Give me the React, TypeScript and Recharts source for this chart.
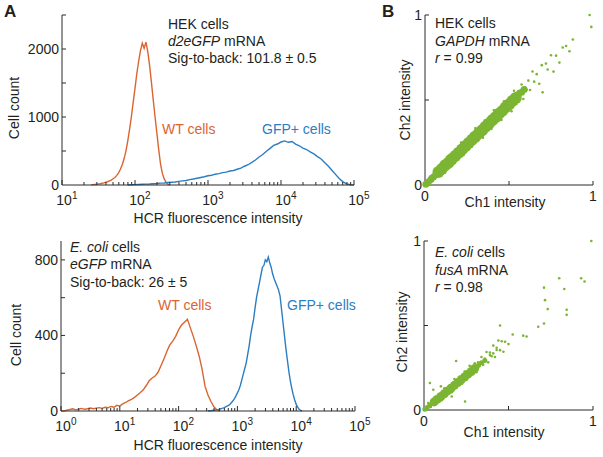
import React from "react";
import { LineChart, Line, XAxis, YAxis, ScatterChart, Scatter } from "recharts";

const ORANGE = "#DC6430";
const BLUE = "#2C7DC2";
const GREEN = "#7BB533";
const AXIS = "#2b2b2b";
const TEXT = "#231f20";
const FONT = "'Liberation Sans', Arial, Helvetica, sans-serif";

// panel A top: HEK cells, d2eGFP mRNA (bins in log10 units)
const hekWtStart = 1.4;
const hekWtBin = 0.025;
const hekWtCounts = [
  3, 5, 8, 10, 16, 19, 26, 31, 41, 48, 62, 73, 92, 110, 142, 178, 232, 298, 385, 495,
  640, 815, 1000, 1215, 1420, 1640, 1820, 1975, 2085, 2010, 2100, 1960, 1760, 1510,
  1250, 1000, 760, 520, 305, 170, 90, 42, 12, 0,
];
const hekGfpStart = 1.9;
const hekGfpBin = 0.05;
const hekGfpCounts = [
  0, 3, 5, 7, 10, 13, 15, 19, 22, 27, 30, 36, 41, 45, 53, 60, 67, 79, 88, 99, 111, 121,
  136, 144, 159, 168, 182, 190, 206, 214, 232, 248, 276, 298, 332, 368, 412, 448, 497,
  538, 582, 603, 632, 648, 628, 640, 602, 577, 543, 522, 488, 457, 418, 382, 328, 276,
  214, 152, 92, 46, 16, 4, 0,
];

// panel A bottom: E. coli cells, eGFP mRNA
const ecoliWtStart = 0;
const ecoliWtBin = 0.05;
const ecoliWtCounts = [
  0, 0, 5, 8, 12, 6, 10, 14, 9, 12, 16, 12, 15, 18, 14, 20, 17, 24, 20, 30, 26, 38, 45,
  55, 62, 72, 85, 98, 112, 135, 160, 175, 185, 205, 240, 275, 315, 350, 370, 395, 430,
  455, 470, 485, 440, 395, 345, 290, 220, 130, 85, 50, 22, 7, 0,
];
const ecoliGfpStart = 2.5;
const ecoliGfpBin = 0.025;
const ecoliGfpCounts = [
  0, 1, 2, 3, 4, 5, 7, 8, 10, 13, 15, 18, 22, 26, 30, 36, 45, 54, 66, 80, 96, 112, 135,
  165, 195, 225, 255, 300, 345, 400, 445, 485, 545, 600, 640, 680, 720, 760, 770, 800,
  790, 815, 785, 760, 725, 700, 680, 660, 640, 610, 540, 470, 400, 330, 270, 210, 160,
  120, 85, 58, 35, 20, 9, 3, 0,
];

const hekTopTicks = [0, 500, 1000, 1500, 2000, 2500];
const hekTopLabels = [0, 1000, 2000];
const ecoliTicks = [0, 200, 400, 600, 800];
const ecoliLabels = [0, 400, 800];
const unitTicks = [0, 0.5, 1];
const unitLabels = [0, 1];

// panel B: Ch1 vs Ch2 intensity, [ch1, ch2]
const hekCore = [
  [0.08, 0.077], [0.1, 0.094], [0.12, 0.116], [0.14, 0.131], [0.16, 0.153], [0.18, 0.17],
  [0.2, 0.19], [0.22, 0.209], [0.24, 0.228], [0.26, 0.247], [0.28, 0.266], [0.3, 0.285],
  [0.32, 0.305], [0.34, 0.322], [0.36, 0.343], [0.38, 0.36], [0.4, 0.381], [0.42, 0.398],
  [0.44, 0.419], [0.46, 0.436], [0.48, 0.457], [0.5, 0.474], [0.52, 0.494], [0.54, 0.512],
];
const hekTip = [
  [0.005, 0.004], [0.02, 0.018], [0.035, 0.033], [0.05, 0.047], [0.065, 0.061],
  [0.555, 0.532], [0.575, 0.545], [0.59, 0.562],
];
const hekSpread = [
  [0.03, 0.049], [0.045, 0.025], [0.07, 0.097], [0.085, 0.056], [0.1, 0.117], [0.115, 0.074],
  [0.13, 0.164], [0.15, 0.123], [0.16, 0.18], [0.175, 0.128], [0.19, 0.211], [0.205, 0.168],
  [0.215, 0.249], [0.23, 0.176], [0.245, 0.258], [0.26, 0.217], [0.275, 0.299], [0.29, 0.254],
  [0.3, 0.335], [0.315, 0.259], [0.33, 0.344], [0.345, 0.278], [0.355, 0.379], [0.37, 0.324],
  [0.385, 0.401], [0.395, 0.33], [0.41, 0.44], [0.425, 0.369], [0.44, 0.446], [0.455, 0.382],
  [0.47, 0.492], [0.485, 0.431], [0.5, 0.51], [0.515, 0.434], [0.53, 0.554], [0.545, 0.478],
  [0.555, 0.552], [0.565, 0.517], [0.575, 0.591], [0.585, 0.506], [0.595, 0.575], [0.605, 0.56],
  [0.615, 0.614], [0.625, 0.559], [0.64, 0.668], [0.65, 0.608], [0.665, 0.652], [0.68, 0.596],
  [0.695, 0.705], [0.7, 0.545], [0.72, 0.714], [0.73, 0.679], [0.75, 0.763], [0.765, 0.667],
  [0.78, 0.761], [0.8, 0.72], [0.82, 0.809], [0.84, 0.818], [0.86, 0.787], [0.88, 0.856],
  [0.98, 1.0], [0.99, 0.93],
];

const ecoliCore = [
  [0.06, 0.048], [0.08, 0.064], [0.1, 0.08], [0.12, 0.096], [0.14, 0.113], [0.16, 0.129],
  [0.18, 0.146], [0.2, 0.162], [0.22, 0.179], [0.24, 0.195], [0.26, 0.212], [0.28, 0.228],
  [0.3, 0.246],
];
const ecoliTip = [
  [0.005, 0.004], [0.02, 0.016], [0.035, 0.028], [0.05, 0.04],
  [0.32, 0.264], [0.34, 0.28], [0.36, 0.293],
];
const ecoliSpread = [
  [0.025, 0.041], [0.04, 0.018], [0.06, 0.074], [0.075, 0.042], [0.09, 0.092], [0.105, 0.058],
  [0.12, 0.128], [0.135, 0.089], [0.15, 0.143], [0.165, 0.105], [0.18, 0.183], [0.195, 0.14],
  [0.21, 0.197], [0.225, 0.155], [0.24, 0.227], [0.255, 0.184], [0.27, 0.261], [0.285, 0.214],
  [0.3, 0.276], [0.31, 0.224], [0.32, 0.282], [0.33, 0.261], [0.34, 0.314], [0.35, 0.267],
  [0.36, 0.305], [0.37, 0.343], [0.38, 0.282], [0.39, 0.34], [0.4, 0.318], [0.41, 0.381],
  [0.42, 0.314], [0.43, 0.368], [0.44, 0.411], [0.45, 0.354], [0.46, 0.407], [0.47, 0.345],
  [0.48, 0.404], [0.5, 0.39], [0.39, 0.325], [0.41, 0.335], [0.43, 0.355], [0.45, 0.5],
  [0.525, 0.447], [0.587, 0.44], [0.607, 0.435], [0.676, 0.493], [0.71, 0.512], [0.732, 0.597],
  [0.716, 0.65], [0.71, 0.724], [0.8, 0.78], [0.83, 0.716], [0.844, 0.593], [0.844, 0.563],
  [0.93, 0.78], [0.95, 0.76], [0.99, 1.0], [0.035, 0.16], [0.055, 0.12], [0.1, 0.14],
  [0.164, 0.08], [0.243, 0.05], [0.19, 0.29],
];

const toBins = (start: number, bin: number, counts: number[]) =>
  counts.map((c, i) => ({ x: Math.pow(10, start + i * bin), count: c }));
const toPts = (pairs: number[][]) => pairs.map(([x, y]) => ({ x, y }));

const logTicks = (lo: number, hi: number) => {
  const t: number[] = [];
  for (let d = lo; d < hi; d++) {
    for (let k = 1; k < 10; k++) t.push(k * Math.pow(10, d));
  }
  t.push(Math.pow(10, hi));
  return t;
};

const isDecade = (v: number) => Math.abs(Math.log10(v) - Math.round(Math.log10(v))) < 1e-6;

const LogXTick = (p: any) => {
  const { x, y, payload } = p;
  const v = payload.value;
  const major = isDecade(v);
  return (
    <g>
      <line x1={x} x2={x} y1={y} y2={y - (major ? 5 : 3)} stroke={AXIS} />
      {major && (
        <g fill={TEXT} fontFamily={FONT}>
          <text x={x + 2} y={y + 20} textAnchor="middle" fontSize={14}>10</text>
          <text x={x + 10} y={y + 14} fontSize={10}>{Math.round(Math.log10(v))}</text>
        </g>
      )}
    </g>
  );
};

const makeYTick = (labels: number[]) => (p: any) => {
  const { x, y, payload } = p;
  const v = payload.value;
  return (
    <g>
      {v !== 0 && <line x1={x} x2={x + 4} y1={y} y2={y} stroke={AXIS} />}
      {labels.includes(v) && (
        <text x={x - 3} y={y + 5} textAnchor="end" fontSize={14} fill={TEXT} fontFamily={FONT}>
          {v}
        </text>
      )}
    </g>
  );
};

const UnitXTick = (p: any) => {
  const { x, y, payload } = p;
  const v = payload.value;
  return (
    <g>
      {v !== 0 && <line x1={x} x2={x} y1={y} y2={y - 4} stroke={AXIS} />}
      {unitLabels.includes(v) && (
        <text x={x} y={y + 16} textAnchor="middle" fontSize={14} fill={TEXT} fontFamily={FONT}>
          {v}
        </text>
      )}
    </g>
  );
};

const dot = (r: number) => (p: any) => <circle cx={p.cx} cy={p.cy} r={r} fill={GREEN} />;

const layer: React.CSSProperties = { position: "absolute", left: 0, top: 0 };
const W = 603;
const H = 457;
const XH = 30; // x axis band height
const YW = 40; // y axis band width

type Box = { top: number; left: number; right: number; bottom: number };
// plot box in page pixels -> chart margin (axis bands are taken off the margin)
const marginFor = (b: Box) => ({
  top: b.top,
  left: b.left - YW,
  right: W - b.right,
  bottom: H - b.bottom - XH,
});

function Histogram(props: {
  box: Box;
  lo: number;
  yMax: number;
  yTicks: number[];
  yLabels: number[];
  wt: { x: number; count: number }[];
  gfp: { x: number; count: number }[];
}) {
  const { box, lo, yMax, yTicks, yLabels, wt, gfp } = props;
  return (
    <div style={layer}>
      <LineChart width={W} height={H} margin={marginFor(box)}>
        <XAxis
          type="number"
          dataKey="x"
          scale="log"
          domain={[Math.pow(10, lo), 100000]}
          ticks={logTicks(lo, 5)}
          interval={0}
          height={XH}
          tickSize={0}
          tickMargin={0}
          tickLine={false}
          axisLine={{ stroke: AXIS }}
          tick={LogXTick}
        />
        <YAxis
          type="number"
          domain={[0, yMax]}
          ticks={yTicks}
          interval={0}
          width={YW}
          tickSize={0}
          tickMargin={0}
          tickLine={false}
          axisLine={{ stroke: AXIS }}
          tick={makeYTick(yLabels)}
        />
        <Line data={wt} dataKey="count" type="linear" stroke={ORANGE} strokeWidth={1.4} dot={false} isAnimationActive={false} />
        <Line data={gfp} dataKey="count" type="linear" stroke={BLUE} strokeWidth={1.4} dot={false} isAnimationActive={false} />
      </LineChart>
    </div>
  );
}

function Correlation(props: {
  box: Box;
  core: number[][];
  tip: number[][];
  spread: number[][];
  coreR: number;
  tipR: number;
}) {
  const { box, core, tip, spread, coreR, tipR } = props;
  return (
    <div style={layer}>
      <ScatterChart width={W} height={H} margin={marginFor(box)}>
        <XAxis
          type="number"
          dataKey="x"
          domain={[0, 1]}
          ticks={unitTicks}
          interval={0}
          height={XH}
          tickSize={0}
          tickMargin={0}
          tickLine={false}
          axisLine={{ stroke: AXIS }}
          tick={UnitXTick}
        />
        <YAxis
          type="number"
          dataKey="y"
          domain={[0, 1]}
          ticks={unitTicks}
          interval={0}
          width={YW}
          tickSize={0}
          tickMargin={0}
          tickLine={false}
          axisLine={{ stroke: AXIS }}
          tick={makeYTick(unitLabels)}
        />
        <Scatter data={toPts(core)} shape={dot(coreR)} isAnimationActive={false} />
        <Scatter data={toPts(tip)} shape={dot(tipR)} isAnimationActive={false} />
        <Scatter data={toPts(spread)} shape={dot(1.3)} isAnimationActive={false} />
      </ScatterChart>
    </div>
  );
}

export default function App() {
  return (
    <div style={{ position: "absolute", left: 0, top: 0, width: W, height: H, background: "#fff" }}>
      <Histogram
        box={{ top: 15, left: 62, right: 354, bottom: 185 }}
        lo={1}
        yMax={2500}
        yTicks={hekTopTicks}
        yLabels={hekTopLabels}
        wt={toBins(hekWtStart, hekWtBin, hekWtCounts)}
        gfp={toBins(hekGfpStart, hekGfpBin, hekGfpCounts)}
      />
      <Histogram
        box={{ top: 241, left: 61, right: 355, bottom: 411 }}
        lo={0}
        yMax={900}
        yTicks={ecoliTicks}
        yLabels={ecoliLabels}
        wt={toBins(ecoliWtStart, ecoliWtBin, ecoliWtCounts)}
        gfp={toBins(ecoliGfpStart, ecoliGfpBin, ecoliGfpCounts)}
      />
      <Correlation
        box={{ top: 15, left: 425, right: 593, bottom: 185 }}
        core={hekCore}
        tip={hekTip}
        spread={hekSpread}
        coreR={6}
        tipR={3.5}
      />
      <Correlation
        box={{ top: 241, left: 424, right: 593, bottom: 410 }}
        core={ecoliCore}
        tip={ecoliTip}
        spread={ecoliSpread}
        coreR={4.5}
        tipR={2.5}
      />
      <svg width={W} height={H} style={{ ...layer, pointerEvents: "none" }} fontFamily={FONT} fontSize={14} fill={TEXT}>
        <text x={4} y={17} fontSize={17} fontWeight="bold">A</text>
        <text x={382} y={17} fontSize={17} fontWeight="bold">B</text>

        <text x={168} y={29}>HEK cells</text>
        <text x={168} y={46}><tspan fontStyle="italic">d2eGFP</tspan> mRNA</text>
        <text x={168} y={63}>Sig-to-back: 101.8 ± 0.5</text>
        <text x={162} y={134} fill={ORANGE}>WT cells</text>
        <text x={262} y={134} fill={BLUE}>GFP+ cells</text>
        <text x={218} y={223} textAnchor="middle">HCR fluorescence intensity</text>
        <text transform="translate(19,108) rotate(-90)" textAnchor="middle">Cell count</text>

        <text x={70} y={252}><tspan fontStyle="italic">E. coli</tspan> cells</text>
        <text x={70} y={269}><tspan fontStyle="italic">eGFP</tspan> mRNA</text>
        <text x={70} y={287}>Sig-to-back: 26 ± 5</text>
        <text x={158} y={310} fill={ORANGE}>WT cells</text>
        <text x={287} y={310} fill={BLUE}>GFP+ cells</text>
        <text x={218} y={450} textAnchor="middle">HCR fluorescence intensity</text>
        <text transform="translate(21,335) rotate(-90)" textAnchor="middle">Cell count</text>

        <text x={435} y={28}>HEK cells</text>
        <text x={435} y={46}><tspan fontStyle="italic">GAPDH</tspan> mRNA</text>
        <text x={435} y={63}><tspan fontStyle="italic">r</tspan> = 0.99</text>
        <text x={505} y={207} textAnchor="middle">Ch1 intensity</text>
        <text transform="translate(410,100) rotate(-90)" textAnchor="middle">Ch2 intensity</text>

        <text x={435} y={257}><tspan fontStyle="italic">E. coli</tspan> cells</text>
        <text x={435} y={275}><tspan fontStyle="italic">fusA</tspan> mRNA</text>
        <text x={435} y={292}><tspan fontStyle="italic">r</tspan> = 0.98</text>
        <text x={504} y={437} textAnchor="middle">Ch1 intensity</text>
        <text transform="translate(407,332) rotate(-90)" textAnchor="middle">Ch2 intensity</text>
      </svg>
    </div>
  );
}
